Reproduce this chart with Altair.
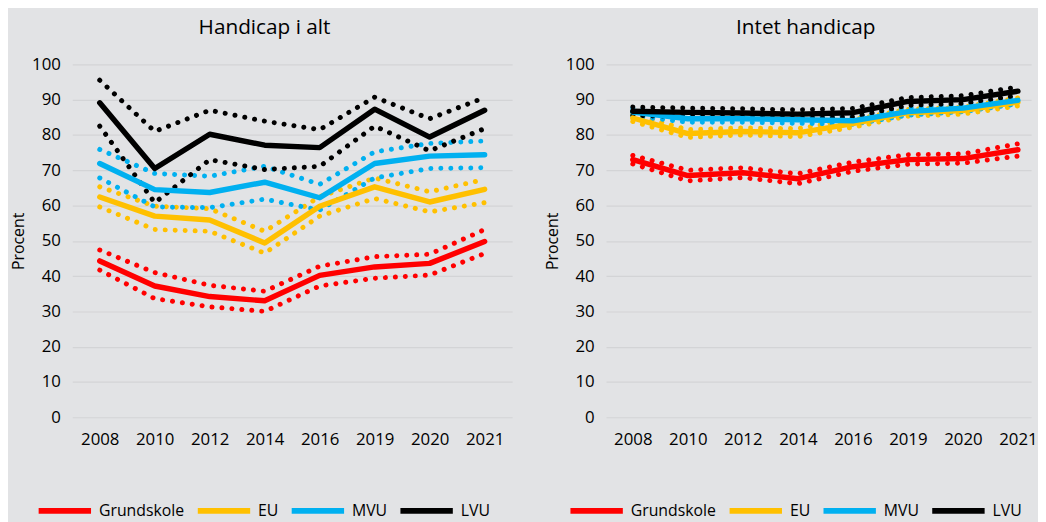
import altair as alt
import pandas as pd

years = ["2008", "2010", "2012", "2014", "2016", "2019", "2020", "2021"]
series = ["Grundskole", "EU", "MVU", "LVU"]
colors = ["#ff0000", "#ffc000", "#00b0f0", "#000000"]

# Handicap i alt
a_gs_mid = [44.3, 37.2, 34.2, 33.0, 40.2, 42.6, 43.6, 49.8]
a_gs_hi = [47.4, 41.0, 37.4, 35.7, 42.8, 45.5, 46.2, 53.2]
a_gs_lo = [41.7, 33.6, 31.3, 30.0, 37.2, 39.4, 40.3, 46.4]
a_eu_mid = [62.4, 57.0, 55.9, 49.4, 59.8, 65.3, 61.0, 64.6]
a_eu_hi = [65.3, 59.8, 59.1, 52.7, 62.5, 67.8, 63.9, 67.4]
a_eu_lo = [59.6, 53.2, 52.7, 46.5, 57.0, 62.0, 58.2, 60.8]
a_mvu_mid = [71.9, 64.5, 63.7, 66.6, 62.2, 71.9, 74.0, 74.4]
a_mvu_hi = [75.9, 69.1, 68.3, 71.1, 66.0, 75.2, 77.6, 78.3]
a_mvu_lo = [67.8, 59.6, 59.4, 61.8, 58.7, 67.8, 70.5, 70.7]
a_lvu_mid = [89.1, 70.5, 80.2, 77.1, 76.4, 87.3, 79.4, 87.0]
a_lvu_hi = [95.5, 81.0, 87.0, 83.9, 81.5, 90.7, 84.6, 90.6]
a_lvu_lo = [82.5, 60.8, 73.0, 70.2, 71.1, 82.5, 75.5, 81.8]

# Intet handicap
b_gs_mid = [73.0, 68.5, 69.3, 67.6, 71.0, 73.0, 73.3, 75.8]
b_gs_hi = [74.2, 70.0, 70.7, 69.0, 72.3, 74.4, 74.6, 77.5]
b_gs_lo = [71.8, 67.0, 67.9, 66.2, 69.7, 71.7, 72.0, 74.0]
b_eu_mid = [84.8, 80.4, 81.0, 80.6, 83.2, 86.3, 86.9, 89.3]
b_eu_hi = [85.8, 81.5, 82.0, 81.8, 84.3, 87.3, 87.9, 90.5]
b_eu_lo = [83.8, 79.3, 80.0, 79.5, 82.2, 85.3, 85.9, 88.2]
b_mvu_mid = [86.5, 84.6, 84.6, 84.3, 84.0, 86.6, 87.6, 89.8]
b_mvu_hi = [87.6, 85.6, 85.6, 85.3, 85.1, 87.6, 88.6, 90.8]
b_mvu_lo = [85.4, 83.6, 83.6, 83.3, 83.0, 85.6, 86.6, 88.8]
b_lvu_mid = [86.7, 86.4, 86.2, 85.9, 86.3, 89.5, 90.0, 92.4]
b_lvu_hi = [87.9, 87.6, 87.4, 87.1, 87.5, 90.6, 91.1, 93.6]
b_lvu_lo = [85.5, 85.2, 85.0, 84.7, 85.1, 88.4, 88.9, 91.2]

FONT = "Open Sans"


def build_df(groups):
    rows = []
    for name, (mid, hi, lo) in zip(series, groups):
        for kind, vals in (("mid", mid), ("hi", hi), ("lo", lo)):
            for yr, v in zip(years, vals):
                rows.append({"year": yr, "series": name, "kind": kind, "value": v})
    return pd.DataFrame(rows)


def panel(df, title, width, legend_x, pad, align, title_dx):
    x = alt.X("year:N", sort=years, title=None,
              scale=alt.Scale(type="point", padding=pad, align=align),
              axis=alt.Axis(labelAngle=0, labelPadding=15, ticks=False, domain=False,
                            grid=False, labelFontSize=17, labelFont=FONT, labelColor="#000000"))
    y = alt.Y("value:Q", scale=alt.Scale(domain=[0, 100], nice=False),
              axis=alt.Axis(values=list(range(0, 101, 10)), title="Procent", ticks=False,
                            domain=False, labelPadding=12, labelFontSize=17, labelFont=FONT,
                            labelColor="#000000", titleFont=FONT, titleFontSize=16,
                            titleFontWeight="normal", titleColor="#000000", titlePadding=5,
                            gridColor="#d3d4d6", gridWidth=1.2))
    color = alt.Color("series:N", sort=series,
                      scale=alt.Scale(domain=series, range=colors),
                      legend=alt.Legend(title=None, orient="none", legendX=legend_x,
                                        legendY=422, direction="horizontal", padding=0,
                                        symbolType="stroke", symbolSize=2809,
                                        symbolStrokeWidth=6, labelFontSize=16,
                                        labelFont=FONT, labelColor="#000000",
                                        columnPadding=1, labelOffset=5))
    dotted = alt.Chart(df).transform_filter(alt.datum.kind != "mid").mark_line(
        strokeWidth=5, strokeDash=[0.1, 10], strokeCap="round", strokeJoin="round"
    ).encode(x=x, y=y, color=color, detail="kind:N")
    solid = alt.Chart(df).transform_filter(alt.datum.kind == "mid").mark_line(
        strokeWidth=5.5, strokeJoin="round", strokeCap="round"
    ).encode(x=x, y=y, color=color)
    return alt.layer(dotted, solid).properties(
        width=width, height=357,
        title=alt.TitleParams(title, fontSize=21, font=FONT, fontWeight="normal",
                              color="#000000", offset=18, anchor="middle",
                              frame="group", dx=title_dx))


df_a = build_df([(a_gs_mid, a_gs_hi, a_gs_lo), (a_eu_mid, a_eu_hi, a_eu_lo),
                 (a_mvu_mid, a_mvu_hi, a_mvu_lo), (a_lvu_mid, a_lvu_hi, a_lvu_lo)])
df_b = build_df([(b_gs_mid, b_gs_hi, b_gs_lo), (b_eu_mid, b_eu_hi, b_eu_lo),
                 (b_mvu_mid, b_mvu_hi, b_mvu_lo), (b_lvu_mid, b_lvu_hi, b_lvu_lo)])

chart = alt.hconcat(
    panel(df_a, "Handicap i alt", 445, -37, 0.5, 0.5, -28),
    panel(df_b, "Intet handicap", 430, -39, 0.363, 0.67, -13),
    spacing=32,
).resolve_scale(color="independent").resolve_legend(color="independent").properties(
    padding={"left": 2, "top": 6, "right": 0, "bottom": 0},
    background="#e2e3e5",
).configure_view(stroke=None)

chart.save("out.html", embed_options={"renderer": "svg", "actions": False})
